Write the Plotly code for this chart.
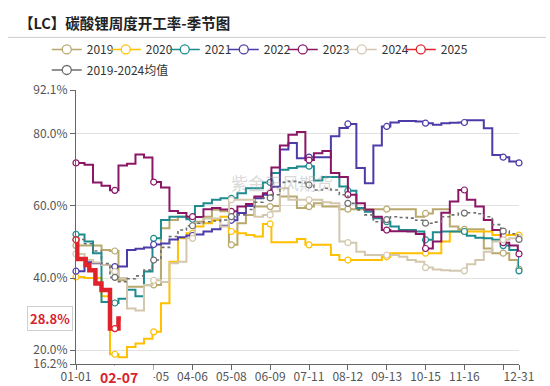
import numpy as np
import plotly.graph_objects as go

# ---------------- data ----------------
WEEK_DAYS = [7 * i for i in range(53)] + [365]          # day-of-year index (leap-year calendar, 366 categories)
MARK_DAYS = [32 * i for i in range(12)] + [365]         # symbol interval of the category axis

TICK_DAYS = [0, 32, 64, 96, 128, 160, 192, 224, 256, 288, 320, 352, 365]
TICK_TEXT = ["01-01", "", "03-05", "04-06", "05-08", "06-09", "07-11",
             "08-12", "09-13", "10-15", "11-16", "", "12-31"]
CURRENT_DAY = 37
CURRENT_LABEL = "02-07"

Y_TICKS = [16.2, 20, 40, 60, 80, 92.1]
Y_TEXT = ["16.2%", "20.0%", "40.0%", "60.0%", "80.0%", "92.1%"]

rate_2019 = [49.0, 49.0, 49.0, 47.8, 47.5, 39.4, 37.6, 37.6, 38.0, 38.1,
             53.8, 56.1, 57.0, 56.6, 55.6, 57.0, 58.9, 58.5, 49.2, 55.2,
             57.5, 59.8, 59.8, 60.0, 62.6, 62.6, 59.4, 59.8, 60.7, 59.8,
             59.8, 59.1, 59.1, 59.1, 59.1, 59.1, 59.1, 59.1, 59.1, 59.1,
             57.0, 57.9, 59.1, 59.1, 54.3, 53.5, 53.5, 53.5, 48.2, 46.9,
             46.9, 45.0, 43.1, 42.5]
rate_2020 = [40.3, 40.0, 40.0, 35.0, 18.9, 18.1, 20.9, 21.9, 23.2, 25.1,
             33.0, 44.5, 51.0, 52.4, 54.3, 55.2, 56.1, 57.0, 52.9, 52.4,
             51.9, 51.5, 55.0, 49.9, 49.9, 49.9, 50.8, 49.2, 49.2, 49.2,
             46.4, 45.0, 45.0, 45.0, 45.0, 45.0, 45.9, 46.9, 46.9, 46.9,
             46.9, 46.9, 46.9, 50.1, 52.9, 52.9, 52.9, 52.9, 52.9, 51.9,
             51.9, 51.9, 51.9, 51.9]
rate_2021 = [52.1, 50.1, 46.9, 33.4, 33.1, 34.3, 36.8, 35.0, 41.8, 51.0,
             56.1, 57.0, 57.0, 56.3, 60.0, 60.7, 61.7, 62.1, 62.1, 63.5,
             64.9, 64.9, 66.5, 69.1, 70.0, 70.5, 70.9, 71.0, 67.0, 68.0,
             68.0, 65.4, 64.2, 59.4, 58.4, 56.6, 55.6, 54.3, 53.3, 53.3,
             52.9, 50.6, 52.7, 52.9, 52.9, 52.9, 51.7, 51.2, 51.0, 50.6,
             49.0, 47.8, 47.0, 42.0]
rate_2022 = [41.9, 44.4, 44.1, 43.6, 43.2, 43.2, 47.8, 48.1, 48.5, 49.3,
             49.6, 50.7, 51.3, 51.8, 52.1, 52.9, 53.5, 54.5, 56.0, 58.0,
             60.0, 62.1, 63.1, 65.3, 75.6, 77.4, 73.2, 73.5, 73.5, 73.5,
             79.3, 81.6, 82.7, 70.5, 66.3, 76.7, 82.0, 83.1, 83.5, 83.5,
             83.4, 82.9, 82.5, 82.9, 83.0, 83.1, 83.7, 83.7, 81.5, 74.1,
             73.5, 72.3, 71.9, 71.9]
rate_2023 = [71.9, 71.4, 66.5, 65.6, 64.3, 71.2, 71.7, 74.2, 73.4, 66.6,
             65.1, 58.6, 58.0, 57.0, 56.9, 59.1, 59.4, 59.0, 58.5, 59.8,
             60.5, 62.6, 63.5, 70.6, 76.7, 79.7, 80.5, 72.7, 74.6, 75.2,
             69.1, 68.0, 63.1, 60.7, 58.9, 57.0, 53.3, 53.0, 53.0, 52.9,
             52.2, 48.2, 50.1, 58.1, 61.2, 64.4, 61.7, 59.8, 56.1, 53.3,
             49.8, 49.0, 47.8, 46.7]
rate_2024 = [46.7, 45.0, 44.3, 43.6, 41.8, 40.0, 31.6, 31.0, 38.1, 39.4,
             38.9, 44.1, 44.5, 51.0, 55.2, 56.5, 56.5, 54.3, 61.7, 61.7,
             61.7, 57.0, 57.5, 58.5, 64.9, 61.7, 61.7, 61.7, 61.7, 61.0,
             60.7, 50.1, 49.8, 47.3, 46.4, 46.4, 46.4, 46.4, 45.9, 45.0,
             44.5, 42.9, 42.4, 42.2, 42.0, 42.0, 43.8, 45.0, 47.3, 50.1,
             50.6, 51.0, 51.0, 51.3]
rate_avg = [50.7, 49.5, 47.5, 44.0, 40.2, 39.0, 39.8, 40.6, 42.2, 45.0,
            48.5, 51.5, 53.3, 54.5, 55.2, 55.6, 55.8, 56.1, 57.0, 57.5,
            59.0, 61.0, 62.2, 63.1, 66.5, 66.8, 66.5, 65.8, 64.4, 64.9,
            64.4, 63.1, 60.7, 58.9, 57.5, 55.6, 56.2, 57.0, 56.8, 56.6,
            56.0, 55.2, 55.5, 57.0, 57.5, 58.0, 58.1, 57.8, 57.0, 54.8,
            53.0, 52.3, 51.5, 50.7]
days_2025 = [0, 1, 8, 11, 16, 21, 28, 35, 37]
rate_2025 = [50.6, 45.3, 43.6, 42.2, 38.5, 36.7, 26.0, 28.8, 28.8]

SERIES = [
    # name, days, values, color, width, dash, legend
    ("2019", WEEK_DAYS, rate_2019, "#B9A96E", 2.0, "solid", "legend"),
    ("2020", WEEK_DAYS, rate_2020, "#FFC000", 2.0, "solid", "legend"),
    ("2021", WEEK_DAYS, rate_2021, "#1E8C8F", 2.0, "solid", "legend"),
    ("2022", WEEK_DAYS, rate_2022, "#4B3CA8", 2.0, "solid", "legend"),
    ("2023", WEEK_DAYS, rate_2023, "#8B1666", 2.0, "solid", "legend"),
    ("2024", WEEK_DAYS, rate_2024, "#D3C7AE", 2.0, "solid", "legend"),
    ("2019-2024均值", WEEK_DAYS, rate_avg, "#6E6E6E", 1.6, "dot", "legend2"),
    ("2025", days_2025, rate_2025, "#E0232A", 4.5, "solid", "legend"),
]
LEGEND_ORDER = ["2019", "2020", "2021", "2022", "2023", "2024", "2025", "2019-2024均值"]


def step_value(days, vals, d):
    i = int(np.searchsorted(np.asarray(days), d, side="right")) - 1
    return vals[i]


fig = go.Figure()

for name, days, vals, color, width, dash, lg in SERIES:
    fig.add_trace(go.Scatter(
        x=days, y=vals, mode="lines",
        line=dict(color=color, width=width, shape="hv", dash=dash),
        showlegend=False, hoverinfo="skip"))
    md = [d for d in MARK_DAYS if d <= days[-1]]
    fig.add_trace(go.Scatter(
        x=md, y=[step_value(days, vals, d) for d in md], mode="markers",
        marker=dict(symbol="circle", size=6, color="white",
                    line=dict(color=color, width=1.2)),
        cliponaxis=False, showlegend=False, hoverinfo="skip"))

color_of = {s[0]: s[3] for s in SERIES}
legend_of = {s[0]: s[6] for s in SERIES}
for name in LEGEND_ORDER:
    kw = {}
    if name == "2025":
        kw["legendwidth"] = 34
    fig.add_trace(go.Scatter(
        x=[None], y=[None], mode="lines+markers", name=name,
        line=dict(color=color_of[name], width=1.5),
        marker=dict(symbol="circle", size=9, color="white",
                    line=dict(color=color_of[name], width=1.3)),
        legend=legend_of[name], **kw))

FONT = "Noto Sans CJK SC, Noto Sans, sans-serif"
RED = "#D9232D"

fig.update_layout(
    width=550, height=386,
    margin=dict(l=76, r=31, t=90, b=22, autoexpand=False),
    paper_bgcolor="white", plot_bgcolor="white",
    font=dict(family=FONT, size=12, color="#666"),
    showlegend=True,
    legend=dict(orientation="h", x=-0.066, xanchor="left", y=1.201, yanchor="top",
                entrywidth=14, font=dict(size=12, color="#333"),
                bgcolor="rgba(0,0,0,0)", traceorder="normal"),
    legend2=dict(orientation="h", x=-0.066, xanchor="left", y=1.126, yanchor="top",
                 font=dict(size=12, color="#333"), bgcolor="rgba(0,0,0,0)"),
    xaxis=dict(range=[0, 365], tickmode="array", tickvals=TICK_DAYS, ticktext=TICK_TEXT,
               showgrid=False, zeroline=False, showline=True, linecolor="#666", linewidth=1,
               ticks="outside", ticklen=5, tickcolor="#666", automargin=False,
               ticklabelstandoff=-3,
               tickfont=dict(size=12, color="#555")),
    yaxis=dict(range=[16.2, 92.1], tickmode="array", tickvals=Y_TICKS, ticktext=Y_TEXT,
               showgrid=True, gridcolor="#E2E2E2", gridwidth=1, zeroline=False,
               showline=True, linecolor="#666", linewidth=1, automargin=False,
               ticks="outside", ticklen=5, tickcolor="#666",
               tickfont=dict(size=12, color="#555")),
    shapes=[dict(type="line", xref="paper", yref="paper", x0=-0.1535, x1=1.061,
                 y0=1.192, y1=1.192, line=dict(color="#CCCCCC", width=1))],
    annotations=[
        dict(text="<b>【LC】碳酸锂周度开工率-季节图</b>", xref="paper", yref="paper",
             x=-0.133, y=1.247, xanchor="left", yanchor="middle", showarrow=False,
             font=dict(size=14.5, color="#222", family=FONT)),
        dict(text="紫金天风期货", xref="paper", yref="paper", x=0.465, y=0.661,
             xanchor="center", yanchor="middle", showarrow=False,
             font=dict(size=17, color="rgba(170,170,170,0.45)", family=FONT)),
        dict(text="<b>%s</b>" % CURRENT_LABEL, xref="x", yref="paper", x=CURRENT_DAY, y=0,
             xanchor="left", yanchor="top", xshift=-23, yshift=-1, showarrow=False,
             width=52, align="left", bgcolor="white", borderpad=1,
             font=dict(size=14, color=RED, family=FONT)),
        dict(text="<b>%.1f%%</b>" % rate_2025[-1], xref="paper", yref="y",
             x=-0.059, y=rate_2025[-1], xanchor="center", yanchor="middle", showarrow=False,
             bgcolor="white", bordercolor="#D0D0D0", borderwidth=1, borderpad=2,
             font=dict(size=13, color=RED, family=FONT)),
    ],
)

fig.write_html("out.html", config={"displayModeBar": False},
               post_script="document.body.style.margin='0';")
